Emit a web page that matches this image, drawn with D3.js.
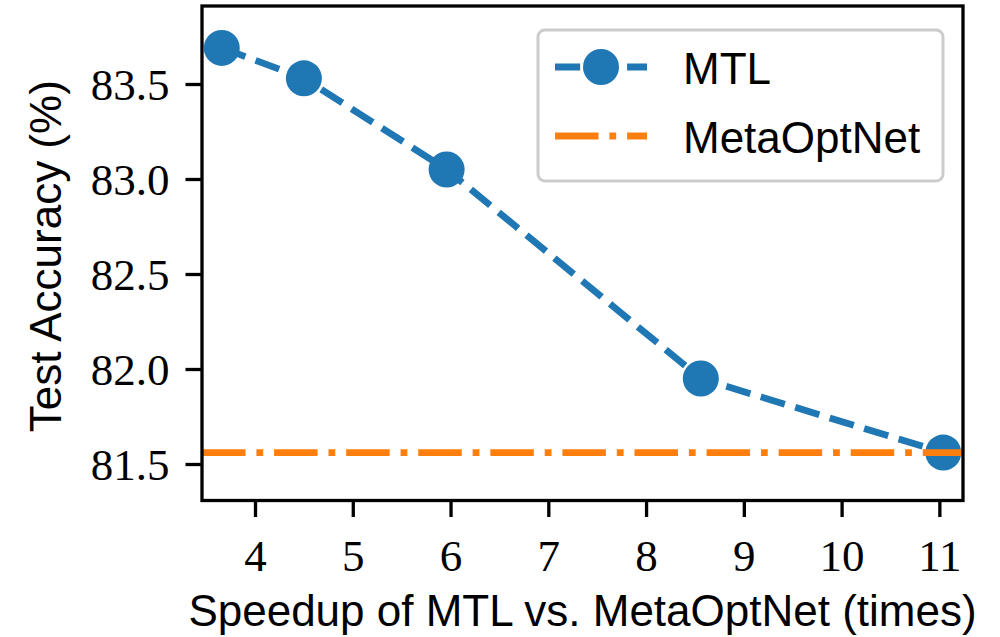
<!DOCTYPE html>
<html>
<head>
<meta charset="utf-8">
<script src="https://cdn.jsdelivr.net/npm/d3@7"></script>
<style>
  html, body { margin: 0; padding: 0; background: #fff; }
  svg { display: block; }
</style>
</head>
<body>
<svg id="chart" width="1000" height="637"></svg>
<script>
// ---- data ----
const speedup = [3.66, 4.50, 5.96, 8.56, 11.04];
const mtlAccuracy = [83.69, 83.53, 83.05, 81.95, 81.56];
const metaOptNetAccuracy = 81.56;
const xTicks = [4, 5, 6, 7, 8, 9, 10, 11];
const yTicks = [81.5, 82.0, 82.5, 83.0, 83.5];
const seriesNames = ["MTL", "MetaOptNet"];
const xLabel = "Speedup of MTL vs. MetaOptNet (times)";
const yLabel = "Test Accuracy (%)";

// ---- layout ----
const L = 202, R = 963, T = 6, B = 500.5;
const blue = "#1f77b4", orange = "#ff7f0e";
const lw = 6.8;
const serif = "'Liberation Serif', 'DejaVu Serif', serif";
const sans = "'Liberation Sans', Arial, sans-serif";

const svg = d3.select("#chart");

const x = d3.scaleLinear().domain([3.4578, 11.2418]).range([L, R]);
const y = d3.scaleLinear().domain([81.3079, 83.9105]).range([B, T]);

// axes
const xAxis = d3.axisBottom(x).tickValues(xTicks).tickSize(16.5).tickPadding(22)
  .tickFormat(d3.format("d"));
const yAxis = d3.axisLeft(y).tickValues(yTicks).tickSize(16.5).tickPadding(16)
  .tickFormat(d3.format(".1f"));

const gx = svg.append("g").attr("transform", `translate(0,${B})`).call(xAxis);
const gy = svg.append("g").attr("transform", `translate(${L},0)`).call(yAxis);
[gx, gy].forEach(g => {
  g.select(".domain").remove();
  g.selectAll(".tick line").attr("stroke", "#000").attr("stroke-width", 3.3);
  g.selectAll(".tick text").attr("fill", "#000")
    .style("font-family", serif).style("font-size", "45px");
});
gy.selectAll(".tick text").attr("dy", "0.34em");
gx.selectAll(".tick text").attr("dy", "0.71em");

// clip
svg.append("clipPath").attr("id", "clip")
  .append("rect").attr("x", L).attr("y", T).attr("width", R - L).attr("height", B - T);

const plot = svg.append("g").attr("clip-path", "url(#clip)");

// MTL line
const pts = speedup.map((s, i) => [s, mtlAccuracy[i]]);
const line = d3.line().x(d => x(d[0])).y(d => y(d[1]));
plot.append("path").datum(pts)
  .attr("d", line)
  .attr("fill", "none")
  .attr("stroke", blue)
  .attr("stroke-width", lw)
  .attr("stroke-dasharray", `${3.7 * lw},${1.6 * lw}`)
  .attr("stroke-linejoin", "round");
plot.selectAll("circle.mtl").data(pts).enter().append("circle")
  .attr("class", "mtl")
  .attr("cx", d => x(d[0])).attr("cy", d => y(d[1]))
  .attr("r", 18).attr("fill", blue);

// MetaOptNet horizontal line
const dashDot = `${6.4 * lw},${1.6 * lw},${1 * lw},${1.6 * lw}`;
plot.append("line")
  .attr("x1", L).attr("x2", R)
  .attr("y1", y(metaOptNetAccuracy)).attr("y2", y(metaOptNetAccuracy))
  .attr("stroke", orange).attr("stroke-width", lw)
  .attr("stroke-dasharray", dashDot);

// frame
svg.append("rect").attr("x", L).attr("y", T).attr("width", R - L).attr("height", B - T)
  .attr("fill", "none").attr("stroke", "#000").attr("stroke-width", 3.3);

// axis labels
svg.append("text").attr("x", (L + R) / 2).attr("y", 626)
  .attr("text-anchor", "middle")
  .style("font-family", sans).style("font-size", "44px").attr("fill", "#000")
  .text(xLabel);
svg.append("text")
  .attr("transform", `translate(61,${(T + B) / 2 + 3}) rotate(-90)`)
  .attr("text-anchor", "middle")
  .style("font-family", sans).style("font-size", "44px").attr("fill", "#000")
  .text(yLabel);

// legend
const lg = svg.append("g");
lg.append("rect").attr("x", 538).attr("y", 30).attr("width", 405).attr("height", 151)
  .attr("rx", 7).attr("ry", 7)
  .attr("fill", "#fff").attr("fill-opacity", 0.8)
  .attr("stroke", "#cccccc").attr("stroke-width", 3);
const hx1 = 555, hx2 = 647, ty = [67, 136];
lg.append("line").attr("x1", hx1).attr("x2", hx2).attr("y1", ty[0]).attr("y2", ty[0])
  .attr("stroke", blue).attr("stroke-width", lw)
  .attr("stroke-dasharray", `${3.7 * lw},${1.6 * lw}`);
lg.append("circle").attr("cx", (hx1 + hx2) / 2).attr("cy", ty[0]).attr("r", 18).attr("fill", blue);
lg.append("line").attr("x1", hx1).attr("x2", hx2).attr("y1", ty[1]).attr("y2", ty[1])
  .attr("stroke", orange).attr("stroke-width", lw)
  .attr("stroke-dasharray", dashDot);
lg.selectAll("text.leg").data(seriesNames).enter().append("text")
  .attr("class", "leg")
  .attr("x", 683).attr("y", (d, i) => ty[i] + 17)
  .style("font-family", sans).style("font-size", "44px").attr("fill", "#000")
  .text(d => d);
</script>
</body>
</html>
